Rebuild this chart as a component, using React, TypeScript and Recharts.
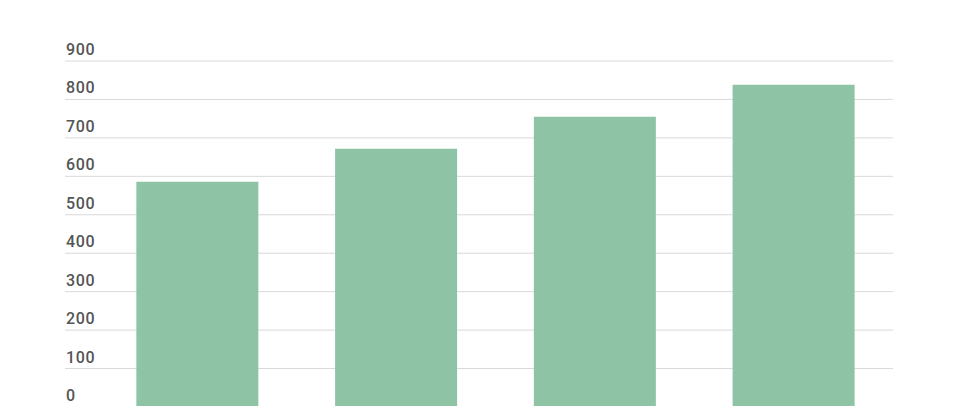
import React from "react";
import { BarChart, Bar, XAxis, YAxis, CartesianGrid } from "recharts";

const categories = ["A", "B", "C", "D"];
const values = [586, 672, 755, 838];
const yTicks = [0, 100, 200, 300, 400, 500, 600, 700, 800, 900];

const data = categories.map((c, i) => ({ name: c, value: values[i] }));

const renderYTick = (props: any) => {
  const { y, payload } = props;
  return (
    <text
      key={payload.value}
      x={66}
      y={y - 6}
      fill="#555"
      fontSize={16}
      fontFamily="Roboto, sans-serif"
      fontWeight={500}
      letterSpacing={0.6}
      textAnchor="start"
    >
      {payload.value}
    </text>
  );
};

export default function App() {
  return (
    <div style={{ position: "absolute", left: 0, top: 0, width: 960, height: 406, overflow: "hidden", background: "#fff" }}>
      <BarChart
        width={960}
        height={420}
        data={data}
        margin={{ top: 61, right: 67, bottom: 13, left: 25 }}
        barCategoryGap="19.3%"
      >
        <CartesianGrid vertical={false} stroke="#d9d9d9" strokeWidth={1} />
        <XAxis dataKey="name" hide padding={{ left: 33, right: 0 }} />
        <YAxis
          domain={[0, 900]}
          ticks={yTicks}
          width={40}
          axisLine={false}
          tickLine={false}
          tick={renderYTick}
          interval={0}
        />
        <Bar dataKey="value" fill="#8fc3a5" isAnimationActive={false} />
      </BarChart>
    </div>
  );
}
